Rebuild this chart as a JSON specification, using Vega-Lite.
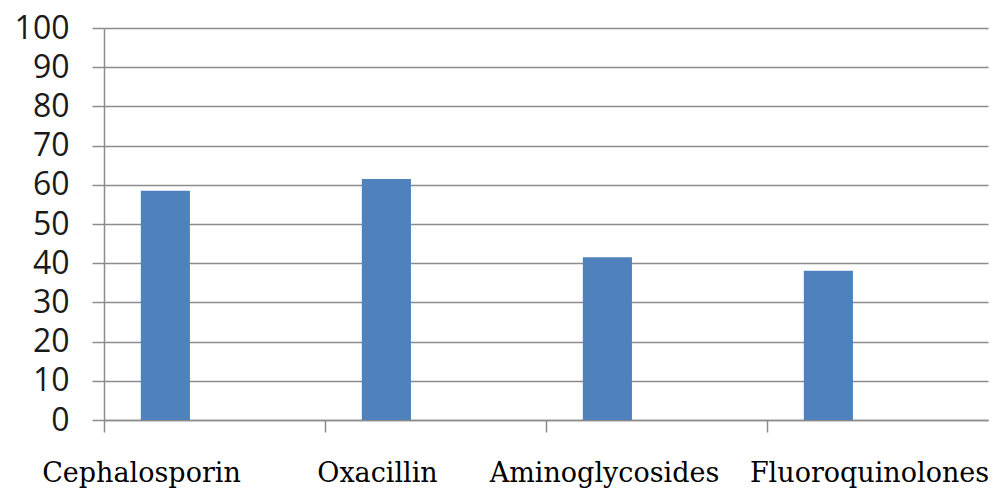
{
  "$schema": "https://vega.github.io/schema/vega-lite/v6.json",
  "width": 884,
  "height": 392,
  "autosize": {"type": "none"},
  "padding": {"left": 104, "top": 28, "right": 7, "bottom": 71},
  "background": "white",
  "data": {
    "values": [
      {"drug": "Cephalosporin", "series": "S1", "value": 58.5},
      {"drug": "Oxacillin", "series": "S1", "value": 61.5},
      {"drug": "Aminoglycosides", "series": "S1", "value": 41.5},
      {"drug": "Fluoroquinolones", "series": "S1", "value": 38.1}
    ]
  },
  "mark": {"type": "bar", "color": "#4F81BD"},
  "encoding": {
    "x": {
      "field": "drug",
      "type": "nominal",
      "sort": null,
      "scale": {
        "domain": ["Cephalosporin", "Oxacillin", "Aminoglycosides", "Fluoroquinolones"],
        "paddingInner": 0,
        "paddingOuter": 0
      },
      "axis": {
        "title": null,
        "labelAngle": 0,
        "bandPosition": 0,
        "labelFont": "DejaVu Serif",
        "labelFontSize": 27,
        "labelColor": "#000000",
        "labelLimit": 0,
        "labelPadding": 28,
        "labelOffset": {"expr": "datum.value == 'Cephalosporin' ? -73 : datum.value == 'Oxacillin' ? -58 : datum.value == 'Aminoglycosides' ? -52 : -8"},
        "domainColor": "#8c8c8c",
        "domainWidth": 1.5,
        "tickColor": "#8c8c8c",
        "tickWidth": 1.5,
        "tickSize": 12,
        "grid": false
      }
    },
    "xOffset": {
      "field": "series",
      "scale": {"domain": ["S1", "S2", "S3"], "paddingInner": 0, "paddingOuter": 0.75}
    },
    "y": {
      "field": "value",
      "type": "quantitative",
      "scale": {"domain": [0, 100]},
      "axis": {
        "title": null,
        "values": [0, 10, 20, 30, 40, 50, 60, 70, 80, 90, 100],
        "labelFont": "Open Sans",
        "labelFontSize": 32,
        "labelColor": "#1a1a1a",
        "labelPadding": 23,
        "domainColor": "#8c8c8c",
        "domainWidth": 1.5,
        "tickColor": "#8c8c8c",
        "tickWidth": 1.5,
        "tickSize": 12,
        "gridColor": "#8c8c8c",
        "gridWidth": 1.5
      }
    }
  },
  "config": {"view": {"stroke": null}}
}
